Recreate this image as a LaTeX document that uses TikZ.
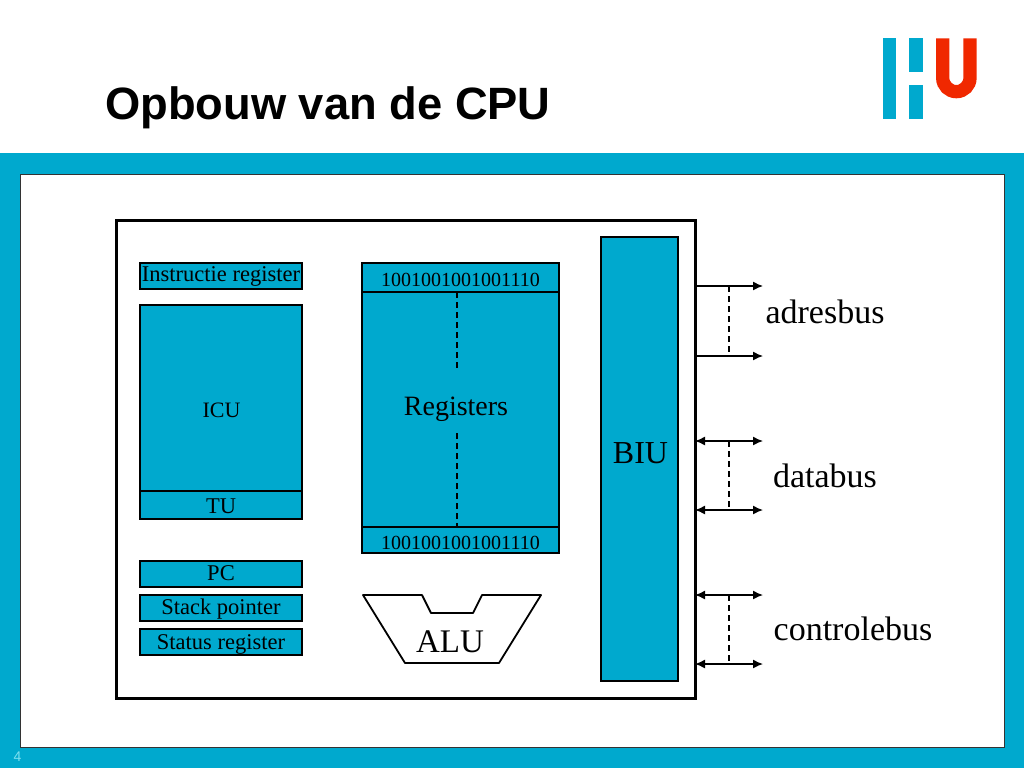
\documentclass[tikz,border=0pt]{standalone}
\usepackage{fontspec}
\usepackage{tikz}
\usetikzlibrary{arrows.meta,positioning}
\setmainfont{Liberation Serif}
\newfontfamily\titlefont{Liberation Sans}
\definecolor{hublue}{HTML}{00A9CE}
\definecolor{hured}{HTML}{F02800}
\definecolor{hunum}{HTML}{7FE0F0}
\newcommand{\pxfont}[1]{\fontsize{#1}{#1}\selectfont}
\tikzset{
  regbox/.style={draw,line width=1.8pt,fill=hublue,anchor=north west,outer sep=0pt,inner sep=0pt,minimum width=162,minimum height=26,align=center,font=\pxfont{22.5}},
  bitbox/.style={regbox,minimum width=197,font=\pxfont{20}},
  textlabel/.style={anchor=base,inner sep=0pt,font=\pxfont{#1}},
  textlabel/.default=34,
  busline/.style={line width=1.4pt,-{Latex[length=10pt,width=9pt]}},
  busboth/.style={line width=1.4pt,{Latex[length=10pt,width=9pt]}-{Latex[length=10pt,width=9pt]}},
  busdash/.style={line width=1.1pt,dash pattern=on 6pt off 4pt}
}
\begin{document}
\begin{tikzpicture}[x=1pt,y=-1pt,node distance=0pt]
  \useasboundingbox (0,0) rectangle (1024,768);
  \fill[hublue] (0,153) rectangle (1024,768);
  \draw[fill=white,draw=black!80,line width=1pt] (20,174) rectangle (1004,747);
  \node[anchor=base west,inner sep=0pt,font=\titlefont\bfseries\pxfont{45.3}] (title) at (105,119) {Opbouw van de CPU};
  \node[anchor=base,inner sep=0pt,text=hunum,font=\titlefont\pxfont{14}] (pagenr) at (17.5,761) {4};

  % logo
  \fill[hublue] (882.7,38.3) rectangle (896,119);
  \fill[hublue] (909.3,38.3) rectangle (922.7,71.7);
  \fill[hublue] (909.3,85.3) rectangle (922.7,119);
  \draw[hured,line width=13.3pt] (942.7,38.3) -- (942.7,78) arc[start angle=180,end angle=0,radius=13.65] -- (970,38.3);

  % cpu
  \node[draw,line width=3pt,anchor=north west,outer sep=0pt,minimum width=579,minimum height=478] (cpu) at (116,220) {};

  \node[regbox] (ir) at (140,263) {Instructie register};
  \node[regbox,minimum height=186] (icu) at (140,305) {};
  \node[regbox,minimum height=28,below=of icu.south west,anchor=north west,text height=17] (tu) {TU};
  \node[regbox,text depth=2] (pc) at (140,561) {PC};
  \node[regbox,text height=18] (sp) at (140,595) {Stack pointer};
  \node[regbox,text height=19] (sr) at (140,629) {Status register};
  \node[textlabel=22] (icutext) at (221.5,417) {ICU};

  \node[bitbox,minimum height=29,text height=19] (regtop) at (362,263) {1001001001001110};
  \node[bitbox,minimum height=235,below=of regtop.south west,anchor=north west] (regs) {};
  \node[bitbox,below=of regs.south west,anchor=north west,text height=19] (regbottom) {1001001001001110};
  \node[textlabel=28] (regtext) at (456,415) {Registers};
  \coordinate (dasha) at (457,370);
  \coordinate (dashb) at (457,433);
  \draw[busdash] (regtop.south -| dasha) -- (dasha);
  \draw[busdash] (dashb) -- (regbottom.north -| dashb);

  \draw[line width=1.8pt,line join=round] (363,595) -- (422,595) -- (431,613) -- (473,613) -- (482,595) -- (541,595) -- (499,663) -- (405,663) -- cycle;
  \node[textlabel=33] (alu) at (450,652) {ALU};

  \node[regbox,minimum width=77,minimum height=444] (biu) at (601,237) {};
  \node[textlabel=32] (biutext) at (640.5,463) {BIU};

  % bussen
  \coordinate (a1) at (695,286);
  \coordinate (a2) at (695,356);
  \coordinate (d1) at (695,441);
  \coordinate (d2) at (695,510);
  \coordinate (c1) at (695,595);
  \coordinate (c2) at (695,664);
  \coordinate (a1e) at (763,286);
  \coordinate (a2e) at (763,356);
  \coordinate (d1e) at (763,441);
  \coordinate (d2e) at (763,510);
  \coordinate (c1e) at (763,595);
  \coordinate (c2e) at (763,664);
  \coordinate (busx) at (729,0);
  \draw[busline] (a1) -- (a1e);
  \draw[busline] (a2) -- (a2e);
  \draw[busboth] (d1) -- (d1e);
  \draw[busboth] (d2) -- (d2e);
  \draw[busboth] (c1) -- (c1e);
  \draw[busboth] (c2) -- (c2e);
  \draw[busdash] (a1 -| busx) -- (a2 -| busx);
  \draw[busdash] (d1 -| busx) -- (d2 -| busx);
  \draw[busdash] (c1 -| busx) -- (c2 -| busx);

  \node[textlabel] (adres) at (825,323) {adresbus};
  \node[textlabel] (data) at (825,487) {databus};
  \node[textlabel] (ctrl) at (853,640) {controlebus};
\end{tikzpicture}
\end{document}
